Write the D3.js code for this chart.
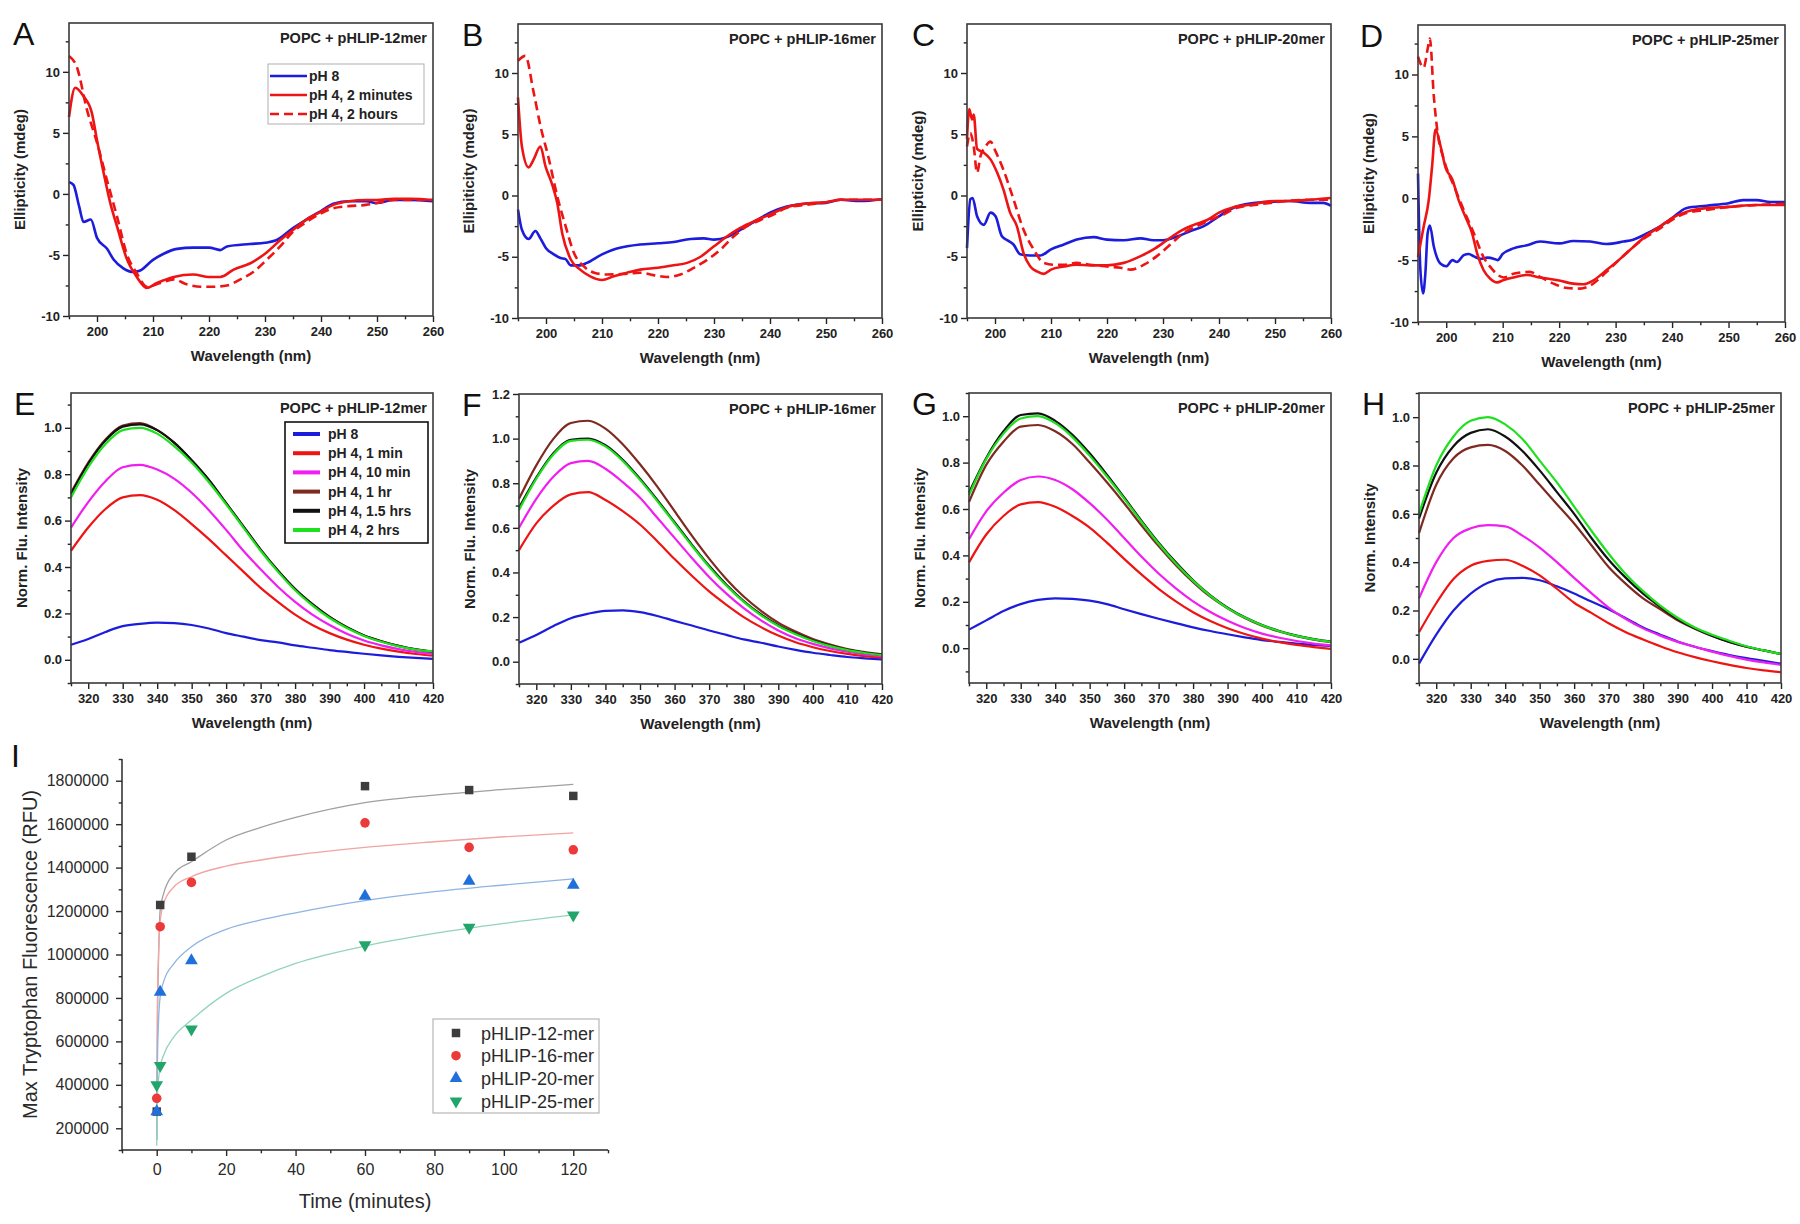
<!DOCTYPE html>
<html>
<head>
<meta charset="utf-8">
<script src="https://cdn.jsdelivr.net/npm/d3@7"></script>
<style>
  body { margin: 0; background: #fff; }
  svg { display: block; }
</style>
</head>
<body>
<svg id="fig" width="1800" height="1224"></svg>
<script>
// ---- CD spectra, [wavelength nm, ellipticity mdeg] ----
const cdA_pH8 = [[195,0.98],[195.8,0.74],[196.8,-1.0],[197.6,-2.3],[198.9,-2.1],[200,-3.6],[201.8,-4.5],[203,-5.4],[204.7,-6.1],[206.5,-6.4],[207.6,-6.3],[210,-5.4],[211.9,-4.9],[214.3,-4.5],[217.2,-4.4],[220,-4.4],[222,-4.6],[223.2,-4.3],[227.3,-4.1],[230,-4.0],[232,-3.8],[235,-2.8],[237.4,-2.1],[240,-1.4],[242.2,-0.8],[245.1,-0.6],[248.1,-0.6],[250,-0.75],[252.9,-0.5],[255.9,-0.5],[260,-0.6]];
const cdA_2min = [[195,6.3],[196.1,8.7],[197.6,8.0],[199.1,6.6],[200,4.4],[201.2,1.7],[202.4,-0.8],[203.6,-2.7],[205.3,-5.3],[207.1,-6.8],[208.9,-7.7],[210.7,-7.3],[213.7,-6.8],[217.2,-6.6],[220,-6.8],[222,-6.8],[224.4,-6.2],[227.3,-5.7],[230,-4.9],[232.7,-3.8],[235,-2.95],[237.4,-2.1],[240,-1.45],[242.2,-0.9],[245,-0.6],[248,-0.5],[250,-0.5],[253,-0.4],[256,-0.4],[260,-0.5]];
const cdA_2hr = [[195,11.3],[196.4,10.4],[198.2,6.9],[200,4.2],[201.8,1.1],[203.6,-1.9],[205.3,-4.9],[207.1,-6.5],[208.9,-7.6],[211.3,-7.3],[213.7,-7.0],[216,-7.4],[218.5,-7.6],[220.8,-7.6],[223.2,-7.5],[225.6,-7.0],[227.9,-6.4],[230.3,-5.4],[232.7,-4.3],[235,-3.1],[237.4,-2.3],[240,-1.6],[242,-1.2],[245,-1.0],[248,-0.9],[250,-0.75],[253,-0.5],[260,-0.5]];

const cdB_pH8 = [[195,-1.15],[195.7,-2.8],[196.9,-3.55],[198.1,-2.9],[199,-3.5],[200,-4.3],[201.4,-4.8],[202.6,-5.1],[203.5,-5.2],[204.4,-5.7],[206.1,-5.7],[207.3,-5.5],[210,-4.8],[212.1,-4.4],[214.5,-4.15],[216.8,-4.0],[220,-3.9],[222.8,-3.8],[225.8,-3.55],[228.2,-3.5],[230,-3.6],[232.3,-3.4],[234.7,-2.8],[237.7,-2.0],[240,-1.4],[243,-0.9],[246.6,-0.65],[250,-0.6],[252.6,-0.35],[256.1,-0.45],[260,-0.3]];
const cdB_2min = [[195,8.0],[195.7,4.0],[196.9,2.3],[197.8,2.95],[199,4.0],[199.9,2.4],[201.1,0.9],[202,-0.6],[202.9,-3.1],[204.4,-5.2],[206.1,-6.05],[207.9,-6.6],[210,-6.9],[212.1,-6.6],[214.5,-6.3],[216.8,-6.05],[220,-5.9],[222.8,-5.7],[225.2,-5.5],[227.6,-5.0],[230,-4.15],[232.3,-3.35],[234.7,-2.65],[237.7,-2.0],[240,-1.55],[243,-0.95],[246.6,-0.65],[250,-0.55],[252.6,-0.35],[256,-0.35],[260,-0.35]];
const cdB_2hr = [[195,11.0],[196.3,11.4],[197.8,8.4],[199,5.7],[200.5,3.0],[202,-0.05],[203.5,-2.5],[205,-4.7],[206.8,-5.8],[208.6,-6.3],[210.9,-6.45],[213.9,-6.4],[216.8,-6.3],[219.2,-6.5],[221.6,-6.65],[224,-6.45],[226.4,-5.9],[228.8,-5.25],[231.2,-4.4],[233.5,-3.35],[235.9,-2.5],[238.3,-2.0],[240.6,-1.55],[243,-1.0],[246.6,-0.75],[250,-0.55],[252.6,-0.35],[260,-0.35]];

const cdC_pH8 = [[195,-4.3],[195.6,-0.3],[196,-0.2],[196.8,-1.7],[198,-2.4],[199.2,-1.4],[200.1,-1.7],[201.2,-3.3],[202.4,-3.7],[203.3,-4.0],[204.5,-4.8],[206.3,-4.9],[208.1,-4.9],[210,-4.4],[212.3,-4.0],[214.6,-3.6],[217.6,-3.4],[220,-3.6],[223,-3.65],[226,-3.5],[228.3,-3.65],[230,-3.65],[232.5,-3.35],[234.9,-2.9],[237.3,-2.5],[240,-1.7],[242.6,-1.0],[245.5,-0.65],[250,-0.5],[252.7,-0.45],[256.3,-0.6],[258.6,-0.6],[260,-0.85]];
const cdC_2min = [[195,4.6],[195.4,7.05],[195.9,6.2],[196.2,6.6],[196.8,3.8],[198,3.5],[199.2,2.95],[200.4,1.85],[201.5,0.5],[202.7,-1.4],[203.9,-2.5],[205.1,-4.7],[206.3,-5.8],[207.5,-6.2],[208.7,-6.4],[210,-6.05],[212.3,-5.8],[214.6,-5.65],[217,-5.7],[220,-5.7],[223,-5.5],[226,-4.95],[228.3,-4.4],[230.7,-3.65],[233.1,-2.9],[235.5,-2.4],[237.9,-2.0],[240,-1.4],[242.6,-0.95],[245.5,-0.75],[250,-0.45],[252.7,-0.45],[256.3,-0.35],[260,-0.2]];
const cdC_2hr = [[195,4.0],[195.6,5.1],[196.2,4.0],[196.8,1.85],[197.4,3.2],[198.3,4.0],[199.2,4.4],[200.1,3.6],[201.5,2.1],[203.3,-0.3],[205.1,-2.8],[206.9,-4.4],[208.7,-5.5],[210.5,-5.65],[212.3,-5.65],[214.6,-5.5],[217,-5.65],[220,-5.8],[222.4,-5.9],[224.2,-6.05],[226.6,-5.65],[228.9,-4.95],[231.3,-4.0],[233.7,-3.05],[236.1,-2.5],[238.4,-2.0],[240.8,-1.55],[243.2,-1.0],[246.8,-0.75],[250,-0.55],[255.6,-0.35],[260,-0.35]];

const cdD_pH8 = [[195,2.0],[195.4,-5.6],[195.9,-7.7],[196.3,-6.1],[196.7,-2.85],[197.1,-2.2],[197.8,-3.9],[199,-5.3],[200,-5.5],[201.1,-5.0],[201.9,-5.15],[203.1,-4.6],[204,-4.5],[204.9,-4.7],[206.1,-4.9],[207.3,-4.8],[208.5,-4.9],[209.1,-5.0],[210,-4.5],[211.9,-4.05],[214.3,-3.8],[216.6,-3.5],[220,-3.65],[222.5,-3.45],[225.5,-3.5],[228.4,-3.7],[231.4,-3.5],[233.1,-3.35],[235.5,-2.85],[237.8,-2.3],[240,-1.6],[242.5,-0.8],[246.1,-0.6],[250,-0.4],[252.6,-0.15],[255,-0.15],[257.4,-0.3],[260,-0.3]];
const cdD_2min = [[195,-4.75],[196,-2.3],[196.9,-0.15],[197.5,2.6],[198.1,5.55],[199,4.2],[199.9,2.45],[201.1,1.5],[202.2,-0.15],[203.4,-1.5],[204.6,-2.85],[205.5,-4.5],[206.6,-5.8],[207.8,-6.5],[209,-6.8],[210.2,-6.6],[211.9,-6.4],[214.3,-6.2],[216.6,-6.4],[220,-6.65],[222.5,-6.9],[224.3,-6.95],[226,-6.65],[228.4,-5.8],[230.8,-4.9],[233.1,-3.95],[235.5,-3.0],[237.8,-2.3],[240,-1.6],[242.5,-1.1],[246,-0.8],[250,-0.7],[255,-0.55],[260,-0.55]];
const cdD_2hr = [[195,11.45],[196,10.55],[196.7,12.05],[197.1,12.9],[197.8,8.25],[198.4,5.55],[199.6,3.1],[201.4,0.95],[203.1,-0.95],[204.9,-2.85],[206.6,-4.75],[207.8,-5.55],[210.2,-6.4],[211.9,-6.1],[214.8,-5.95],[216.6,-6.35],[219,-6.9],[221.4,-7.25],[223.7,-7.3],[225.5,-7.05],[228.4,-5.95],[230.8,-4.9],[233.1,-3.95],[235.5,-3.1],[237.8,-2.45],[240,-1.75],[242.5,-1.2],[246,-0.95],[250,-0.7],[255,-0.55],[260,-0.45]];

const cdLegend = ['pH 8', 'pH 4, 2 minutes', 'pH 4, 2 hours'];
const cdXMajor = [200, 210, 220, 230, 240, 250, 260];
const cdXMinor = [195, 205, 215, 225, 235, 245, 255];
const cdYMajor = [-10, -5, 0, 5, 10];
const cdYMinor = [-7.5, -2.5, 2.5, 7.5, 12.5];

// ---- fluorescence emission, normalised ----
const flWavelength = [315,320,325,330,335,340,345,350,355,360,365,370,375,380,385,390,395,400,405,410,415,420];

const flE_pH8 = [0.065,0.09,0.12,0.145,0.155,0.16,0.158,0.15,0.135,0.115,0.10,0.085,0.075,0.062,0.052,0.042,0.034,0.026,0.019,0.013,0.008,0.004];
const flE_1min = [0.47,0.57,0.65,0.70,0.71,0.69,0.645,0.585,0.52,0.45,0.38,0.31,0.25,0.195,0.15,0.115,0.087,0.065,0.048,0.035,0.025,0.018];
const flE_10min = [0.57,0.68,0.77,0.83,0.84,0.82,0.78,0.72,0.645,0.56,0.47,0.39,0.315,0.25,0.195,0.15,0.112,0.083,0.062,0.046,0.034,0.025];
const flE_1hr = [0.72,0.85,0.95,1.01,1.02,0.99,0.935,0.86,0.775,0.675,0.575,0.475,0.385,0.305,0.24,0.185,0.14,0.105,0.08,0.06,0.045,0.035];
const flE_15hr = [0.715,0.845,0.945,1.005,1.015,0.99,0.935,0.86,0.775,0.675,0.575,0.475,0.385,0.305,0.24,0.185,0.14,0.105,0.08,0.06,0.045,0.035];
const flE_2hr = [0.70,0.83,0.93,0.99,1.0,0.975,0.92,0.85,0.765,0.67,0.57,0.47,0.38,0.30,0.235,0.18,0.137,0.103,0.078,0.058,0.044,0.036];

const flF_pH8 = [0.085,0.12,0.16,0.195,0.215,0.228,0.23,0.222,0.205,0.183,0.162,0.14,0.12,0.10,0.085,0.068,0.053,0.04,0.03,0.021,0.015,0.01];
const flF_1min = [0.50,0.62,0.70,0.75,0.76,0.725,0.675,0.615,0.54,0.46,0.385,0.315,0.255,0.20,0.155,0.117,0.087,0.065,0.048,0.035,0.025,0.018];
const flF_10min = [0.60,0.73,0.83,0.89,0.90,0.865,0.805,0.735,0.645,0.555,0.465,0.38,0.305,0.24,0.185,0.14,0.105,0.08,0.06,0.045,0.033,0.025];
const flF_1hr = [0.73,0.88,1.0,1.07,1.08,1.045,0.975,0.885,0.785,0.675,0.565,0.462,0.37,0.292,0.228,0.175,0.135,0.102,0.077,0.057,0.043,0.033];
const flF_15hr = [0.69,0.825,0.935,0.995,1.0,0.97,0.905,0.82,0.725,0.625,0.525,0.43,0.345,0.272,0.212,0.163,0.126,0.095,0.072,0.053,0.04,0.03];
const flF_2hr = [0.68,0.82,0.93,0.99,0.995,0.965,0.90,0.815,0.72,0.62,0.52,0.425,0.34,0.268,0.208,0.16,0.123,0.093,0.07,0.052,0.039,0.029];

const flG_pH8 = [0.08,0.12,0.16,0.19,0.208,0.215,0.213,0.205,0.19,0.168,0.147,0.127,0.108,0.09,0.074,0.06,0.047,0.035,0.027,0.02,0.014,0.01];
const flG_1min = [0.37,0.49,0.57,0.62,0.63,0.61,0.57,0.52,0.455,0.385,0.318,0.256,0.202,0.155,0.117,0.086,0.061,0.041,0.026,0.014,0.005,-0.003];
const flG_10min = [0.47,0.59,0.67,0.725,0.74,0.725,0.685,0.625,0.555,0.475,0.395,0.322,0.258,0.202,0.156,0.118,0.087,0.063,0.045,0.031,0.02,0.012];
const flG_1hr = [0.63,0.79,0.89,0.955,0.962,0.935,0.88,0.80,0.715,0.625,0.53,0.44,0.358,0.285,0.222,0.172,0.13,0.097,0.072,0.052,0.037,0.026];
const flG_15hr = [0.67,0.82,0.935,1.005,1.012,0.98,0.92,0.84,0.748,0.65,0.55,0.455,0.37,0.293,0.228,0.175,0.133,0.1,0.074,0.054,0.039,0.028];
const flG_2hr = [0.66,0.815,0.925,0.99,1.0,0.97,0.91,0.83,0.74,0.645,0.545,0.45,0.365,0.29,0.226,0.173,0.132,0.099,0.073,0.053,0.038,0.027];

const flH_pH8 = [-0.02,0.10,0.20,0.27,0.315,0.333,0.335,0.325,0.30,0.27,0.237,0.205,0.168,0.13,0.10,0.072,0.05,0.032,0.016,0.003,-0.008,-0.02];
const flH_1min = [0.11,0.23,0.33,0.385,0.405,0.41,0.385,0.345,0.29,0.232,0.19,0.147,0.11,0.08,0.052,0.027,0.007,-0.01,-0.025,-0.038,-0.048,-0.055];
const flH_10min = [0.25,0.40,0.50,0.54,0.553,0.548,0.51,0.46,0.40,0.335,0.272,0.212,0.165,0.126,0.096,0.07,0.05,0.03,0.012,-0.003,-0.015,-0.025];
const flH_1hr = [0.52,0.72,0.83,0.875,0.885,0.86,0.80,0.72,0.64,0.56,0.47,0.38,0.31,0.25,0.205,0.16,0.125,0.095,0.07,0.05,0.035,0.02];
const flH_15hr = [0.58,0.77,0.88,0.935,0.95,0.92,0.86,0.78,0.69,0.60,0.50,0.41,0.335,0.27,0.215,0.165,0.127,0.096,0.07,0.05,0.035,0.02];
const flH_2hr = [0.60,0.80,0.92,0.985,1.0,0.97,0.91,0.82,0.73,0.63,0.53,0.435,0.35,0.28,0.22,0.17,0.13,0.10,0.075,0.052,0.035,0.02];

const flLegend = ['pH 8', 'pH 4, 1 min', 'pH 4, 10 min', 'pH 4, 1 hr', 'pH 4, 1.5 hrs', 'pH 4, 2 hrs'];
const flXMajor = [320, 330, 340, 350, 360, 370, 380, 390, 400, 410, 420];
const flXMinor = [315, 325, 335, 345, 355, 365, 375, 385, 395, 405, 415];
const flYMajor = [0, 0.2, 0.4, 0.6, 0.8, 1.0, 1.2];
const flYMinor = [-0.1, 0.1, 0.3, 0.5, 0.7, 0.9, 1.1];

// ---- max Trp fluorescence vs time ----
const timePoints = [0, 1, 10, 60, 90, 120];
const rfu12 = [277000, 1228000, 1450000, 1775000, 1757000, 1730000];
const rfu16 = [338000, 1128000, 1332000, 1606000, 1493000, 1482000];
const rfu20 = [281000, 832000, 977000, 1274000, 1343000, 1324000];
const rfu25 = [395000, 484000, 652000, 1039000, 1120000, 1177000];
const fitTimes = [0, 0.2, 0.5, 1, 2, 5, 10, 20, 30, 40, 60, 80, 100, 120];
const fit12 = [146000, 668000, 960000, 1204000, 1281000, 1373000, 1427000, 1527000, 1585000, 1631000, 1699000, 1734000, 1760000, 1783000];
const fit16 = [146000, 775000, 990000, 1151000, 1235000, 1312000, 1358000, 1407000, 1435000, 1458000, 1493000, 1519000, 1542000, 1560000];
const fit20 = [146000, 499000, 683000, 806000, 875000, 959000, 1036000, 1116000, 1159000, 1192000, 1248000, 1289000, 1320000, 1348000];
const fit25 = [120000, 346000, 422000, 484000, 537000, 622000, 698000, 821000, 898000, 959000, 1039000, 1097000, 1143000, 1182000];
const rfuLegend = ['pHLIP-12-mer', 'pHLIP-16-mer', 'pHLIP-20-mer', 'pHLIP-25-mer'];
const timeMajor = [0, 20, 40, 60, 80, 100, 120];
const timeMinor = [-10, 10, 30, 50, 70, 90, 110, 130];
const rfuMajor = [200000, 400000, 600000, 800000, 1000000, 1200000, 1400000, 1600000, 1800000];
const rfuMinor = [100000, 300000, 500000, 700000, 900000, 1100000, 1300000, 1500000, 1700000, 1900000];

const FONT = '"Liberation Sans", Arial, Helvetica, sans-serif';
const svg = d3.select('#fig').attr('font-family', FONT);
svg.append('rect').attr('width', 1800).attr('height', 1224).attr('fill', '#fff');

const cdColors = ['#1c1cdc', '#ee1414', '#ee1414'];
const flColors = ['#1c1cdc', '#ee1414', '#f01ef0', '#7e2a20', '#111111', '#1fe01f'];

const cdPanels = [
  { letter: 'A', lx: 13, title: 'POPC + pHLIP-12mer', yLabel: 'Ellipticity (mdeg)', left: 69, right: 433, top: 23, bottom: 316, series: [cdA_pH8, cdA_2min, cdA_2hr], legend: true },
  { letter: 'B', lx: 462, title: 'POPC + pHLIP-16mer', yLabel: 'Ellipiticity (mdeg)', left: 518, right: 882, top: 24, bottom: 318, series: [cdB_pH8, cdB_2min, cdB_2hr] },
  { letter: 'C', lx: 912, title: 'POPC + pHLIP-20mer', yLabel: 'Ellipticity (mdeg)', left: 967, right: 1331, top: 24, bottom: 318, series: [cdC_pH8, cdC_2min, cdC_2hr] },
  { letter: 'D', lx: 1360, title: 'POPC + pHLIP-25mer', yLabel: 'Ellipticity (mdeg)', left: 1418, right: 1785, top: 25, bottom: 322, series: [cdD_pH8, cdD_2min, cdD_2hr] },
];

const flPanels = [
  { letter: 'E', lx: 14, title: 'POPC + pHLIP-12mer', yLabel: 'Norm. Flu. Intensity', left: 71, right: 433, top: 393, bottom: 683, domain: [-0.1, 1.15], series: [flE_pH8, flE_1min, flE_10min, flE_1hr, flE_15hr, flE_2hr], legend: true },
  { letter: 'F', lx: 462, title: 'POPC + pHLIP-16mer', yLabel: 'Norm. Flu. Intensity', left: 519, right: 882, top: 394, bottom: 684, domain: [-0.1, 1.2], series: [flF_pH8, flF_1min, flF_10min, flF_1hr, flF_15hr, flF_2hr] },
  { letter: 'G', lx: 912, title: 'POPC + pHLIP-20mer', yLabel: 'Norm. Flu. Intensity', left: 969, right: 1331, top: 393, bottom: 683, domain: [-0.15, 1.1], series: [flG_pH8, flG_1min, flG_10min, flG_1hr, flG_15hr, flG_2hr] },
  { letter: 'H', lx: 1362, title: 'POPC + pHLIP-25mer', yLabel: 'Norm. Intensity', left: 1419, right: 1781, top: 393, bottom: 683, domain: [-0.1, 1.1], series: [flH_pH8, flH_1min, flH_10min, flH_1hr, flH_15hr, flH_2hr] },
];

const inside = (scale, values) => {
  const [a, b] = d3.extent(scale.domain());
  return values.filter((v) => v >= a - 1e-9 && v <= b + 1e-9);
};

function styleAxis(sel, size, weight, color) {
  sel.attr('font-family', FONT).attr('font-size', size).attr('font-weight', weight).attr('color', color);
  sel.select('.domain').remove();
  sel.selectAll('.tick line').attr('stroke-width', 1.4);
}

function axes(g, x, y, p, o) {
  const bottom = g.append('g').attr('transform', `translate(0,${p.bottom})`);
  bottom.call(d3.axisBottom(x).tickValues(inside(x, o.xMinor)).tickSize(o.tick * 0.55).tickFormat(''));
  styleAxis(bottom, o.size, o.weight, o.color);
  const bottomMajor = g.append('g').attr('transform', `translate(0,${p.bottom})`);
  bottomMajor.call(d3.axisBottom(x).tickValues(inside(x, o.xMajor)).tickSize(o.tick).tickPadding(o.xPad).tickFormat(o.xFmt));
  styleAxis(bottomMajor, o.size, o.weight, o.color);

  const left = g.append('g').attr('transform', `translate(${p.left},0)`);
  left.call(d3.axisLeft(y).tickValues(inside(y, o.yMinor)).tickSize(o.tick * 0.55).tickFormat(''));
  styleAxis(left, o.size, o.weight, o.color);
  const leftMajor = g.append('g').attr('transform', `translate(${p.left},0)`);
  leftMajor.call(d3.axisLeft(y).tickValues(inside(y, o.yMajor)).tickSize(o.tick).tickPadding(o.yPad).tickFormat(o.yFmt));
  styleAxis(leftMajor, o.size, o.weight, o.color);
}

function frame(g, p) {
  g.append('rect')
    .attr('x', p.left).attr('y', p.top)
    .attr('width', p.right - p.left).attr('height', p.bottom - p.top)
    .attr('fill', 'none').attr('stroke', '#3a3a3a').attr('stroke-width', 1.6);
}

function labels(g, p, xLabel) {
  g.append('text').attr('x', p.lx).attr('y', p.top + 22)
    .attr('font-size', 32).attr('fill', '#111').text(p.letter);
  g.append('text').attr('x', p.right - 6).attr('y', p.top + 20)
    .attr('text-anchor', 'end').attr('font-size', 14.5).attr('font-weight', 'bold').attr('fill', '#222').text(p.title);
  g.append('text').attr('x', (p.left + p.right) / 2).attr('y', p.bottom + 45)
    .attr('text-anchor', 'middle').attr('font-size', 15).attr('font-weight', 'bold').attr('fill', '#222').text(xLabel);
  g.append('text')
    .attr('transform', `translate(${p.left - 44},${(p.top + p.bottom) / 2}) rotate(-90)`)
    .attr('text-anchor', 'middle').attr('font-size', 15).attr('font-weight', 'bold').attr('fill', '#222').text(p.yLabel);
}

// ---- rows A-D ----
cdPanels.forEach((p) => {
  const g = svg.append('g');
  const x = d3.scaleLinear().domain([195, 260]).range([p.left, p.right]);
  const y = d3.scaleLinear().domain([-10, 14]).range([p.bottom, p.top]);
  axes(g, x, y, p, { xMajor: cdXMajor, xMinor: cdXMinor, yMajor: cdYMajor, yMinor: cdYMinor, tick: 6, xPad: 5, yPad: 3, size: 13, weight: 'bold', color: '#222', xFmt: (d) => d, yFmt: (d) => d });
  const line = d3.line().x((d) => x(d[0])).y((d) => y(d[1])).curve(d3.curveMonotoneX);
  p.series.forEach((s, i) => {
    g.append('path').datum(s).attr('d', line).attr('fill', 'none')
      .attr('stroke', cdColors[i]).attr('stroke-width', 2.6).attr('stroke-linejoin', 'round')
      .attr('stroke-dasharray', i === 2 ? '9,5' : null);
  });
  frame(g, p);
  labels(g, p, 'Wavelength (nm)');
  if (p.legend) {
    const lg = g.append('g');
    lg.append('rect').attr('x', 268).attr('y', 64).attr('width', 156).attr('height', 60)
      .attr('fill', '#fff').attr('stroke', '#b0b0b0').attr('stroke-width', 1);
    cdLegend.forEach((name, i) => {
      const yy = 76 + i * 19;
      lg.append('line').attr('x1', 270).attr('x2', 307).attr('y1', yy).attr('y2', yy)
        .attr('stroke', cdColors[i]).attr('stroke-width', 2.6).attr('stroke-dasharray', i === 2 ? '9,5' : null);
      lg.append('text').attr('x', 309).attr('y', yy + 5).attr('font-size', 14).attr('font-weight', 'bold').attr('fill', '#222').text(name);
    });
  }
});

// ---- rows E-H ----
flPanels.forEach((p) => {
  const g = svg.append('g');
  const x = d3.scaleLinear().domain([315, 420]).range([p.left, p.right]);
  const y = d3.scaleLinear().domain(p.domain).range([p.bottom, p.top]);
  axes(g, x, y, p, { xMajor: flXMajor, xMinor: flXMinor, yMajor: flYMajor, yMinor: flYMinor, tick: 6, xPad: 5, yPad: 3, size: 13, weight: 'bold', color: '#222', xFmt: (d) => d, yFmt: d3.format('.1f') });
  const line = d3.line().x((d, i) => x(flWavelength[i])).y((d) => y(d)).curve(d3.curveMonotoneX);
  p.series.forEach((s, i) => {
    g.append('path').datum(s).attr('d', line).attr('fill', 'none')
      .attr('stroke', flColors[i]).attr('stroke-width', 2.2).attr('stroke-linejoin', 'round');
  });
  frame(g, p);
  labels(g, p, 'Wavelength (nm)');
  if (p.legend) {
    const lg = g.append('g');
    lg.append('rect').attr('x', 285).attr('y', 422).attr('width', 143).attr('height', 121)
      .attr('fill', '#fff').attr('stroke', '#111').attr('stroke-width', 1.6);
    flLegend.forEach((name, i) => {
      const yy = 434 + i * 19.2;
      lg.append('line').attr('x1', 293).attr('x2', 320).attr('y1', yy).attr('y2', yy)
        .attr('stroke', flColors[i]).attr('stroke-width', 4);
      lg.append('text').attr('x', 328).attr('y', yy + 5).attr('font-size', 14).attr('font-weight', 'bold').attr('fill', '#222').text(name);
    });
  }
});

// ---- panel I ----
{
  const p = { left: 122, right: 608, top: 759, bottom: 1150 };
  const g = svg.append('g');
  const x = d3.scaleLinear().domain([-10, 130]).range([p.left, p.right]);
  const y = d3.scaleLinear().domain([100000, 1900000]).range([p.bottom, p.top]);
  axes(g, x, y, p, { xMajor: timeMajor, xMinor: timeMinor, yMajor: rfuMajor, yMinor: rfuMinor, tick: 6, xPad: 8, yPad: 7, size: 16, weight: 'normal', color: '#2a2a2a', xFmt: (d) => d, yFmt: (d) => d });
  g.append('line').attr('x1', p.left).attr('x2', p.left).attr('y1', p.top).attr('y2', p.bottom).attr('stroke', '#2a2a2a').attr('stroke-width', 1.5);
  g.append('line').attr('x1', p.left).attr('x2', p.right).attr('y1', p.bottom).attr('y2', p.bottom).attr('stroke', '#2a2a2a').attr('stroke-width', 1.5);

  const groups = [
    { fit: fit12, pts: rfu12, line: '#a0a0a0', fill: '#3d3d3d', symbol: d3.symbolSquare, size: 72, rot: 0 },
    { fit: fit16, pts: rfu16, line: '#f2a3a3', fill: '#ec3a3a', symbol: d3.symbolCircle, size: 72, rot: 0 },
    { fit: fit20, pts: rfu20, line: '#8db4e2', fill: '#1f6fdc', symbol: d3.symbolTriangle, size: 70, rot: 0 },
    { fit: fit25, pts: rfu25, line: '#93d4b8', fill: '#22a56a', symbol: d3.symbolTriangle, size: 70, rot: 180 },
  ];
  const fitLine = d3.line().x((d, i) => x(fitTimes[i])).y((d) => y(d)).curve(d3.curveMonotoneX);
  groups.forEach((s) => {
    g.append('path').datum(s.fit).attr('d', fitLine).attr('fill', 'none').attr('stroke', s.line).attr('stroke-width', 1.3);
  });
  groups.forEach((s) => {
    g.selectAll(null).data(s.pts).join('path')
      .attr('d', d3.symbol(s.symbol, s.size))
      .attr('transform', (d, i) => `translate(${x(timePoints[i])},${y(d) + (s.rot ? -1 : s.symbol === d3.symbolTriangle ? 1 : 0)}) rotate(${s.rot})`)
      .attr('fill', s.fill);
  });

  // legend
  const lg = g.append('g');
  lg.append('rect').attr('x', 433).attr('y', 1019).attr('width', 166).attr('height', 94)
    .attr('fill', '#fff').attr('stroke', '#a8a8a8').attr('stroke-width', 1);
  groups.forEach((s, i) => {
    const yy = 1033 + i * 22.7;
    lg.append('path').attr('d', d3.symbol(s.symbol, s.size))
      .attr('transform', `translate(456,${yy}) rotate(${s.rot})`).attr('fill', s.fill);
    lg.append('text').attr('x', 481).attr('y', yy + 6.5).attr('font-size', 18).attr('fill', '#2a2a2a').text(rfuLegend[i]);
  });

  g.append('text').attr('x', (p.left + p.right) / 2).attr('y', 1208).attr('text-anchor', 'middle')
    .attr('font-size', 20).attr('fill', '#2a2a2a').text('Time (minutes)');
  g.append('text').attr('transform', `translate(37,${(p.top + p.bottom) / 2}) rotate(-90)`).attr('text-anchor', 'middle')
    .attr('font-size', 20).attr('fill', '#2a2a2a').text('Max Tryptophan Fluorescence (RFU)');
  g.append('text').attr('x', 11).attr('y', 767).attr('font-size', 32).attr('fill', '#111').text('I');
}
</script>
</body>
</html>
